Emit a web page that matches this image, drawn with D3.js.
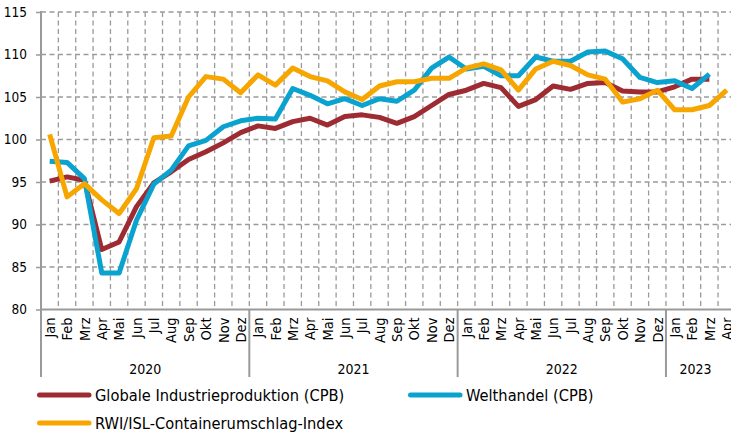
<!DOCTYPE html>
<html><head><meta charset="utf-8">
<script src="https://cdn.jsdelivr.net/npm/d3@7"></script>
<style>
html,body{margin:0;padding:0;background:#fff;}
svg{display:block;font-family:"DejaVu Sans Condensed","DejaVu Sans",sans-serif;font-stretch:condensed;}
</style></head>
<body>
<script>
const monthNames = ["Jan","Feb","Mrz","Apr","Mai","Jun","Jul","Aug","Sep","Okt","Nov","Dez"];
const years = ["2020","2021","2022","2023"];
const yTicks = [80,85,90,95,100,105,110,115];
// Jan 2020 .. Apr 2023 (40 months)
const industrie = [95.1,95.6,95.2,87.05,87.95,92.1,94.9,96.2,97.65,98.55,99.6,100.8,
  101.6,101.3,102.1,102.5,101.7,102.7,102.9,102.6,101.9,102.7,104.0,105.3,
  105.8,106.6,106.1,103.9,104.7,106.3,105.9,106.6,106.7,105.7,105.6,105.6,
  106.2,107.1,107.1,null];
const welthandel = [97.45,97.3,95.4,84.3,84.3,90.5,94.75,96.4,99.25,99.9,101.5,102.2,
  102.5,102.4,106.0,105.2,104.2,104.8,104.0,104.8,104.5,105.8,108.4,109.7,
  108.3,108.6,107.5,107.5,109.7,109.2,109.2,110.3,110.4,109.5,107.3,106.7,
  106.9,106.0,107.7,null];
const containers = [100.6,93.25,94.8,92.9,91.3,94.2,100.2,100.4,105.0,107.4,107.1,105.5,
  107.6,106.4,108.4,107.4,106.9,105.6,104.7,106.3,106.8,106.8,107.2,107.2,
  108.4,108.9,108.2,105.8,108.3,109.2,108.7,107.6,107.1,104.4,104.8,105.8,
  103.5,103.5,104.0,105.8];
const seriesNames = ["Globale Industrieproduktion (CPB)","Welthandel (CPB)","RWI/ISL-Containerumschlag-Index"];
const colors = ["#9e2a32","#0aa2cf","#f7a600"];

const months = [];
years.forEach(y => monthNames.forEach(m => months.push(y + "-" + m)));
months.length = 40;

const W = 731, H = 433;
const FONT = '"DejaVu Sans Condensed","DejaVu Sans",sans-serif';
const svg = d3.select("body").append("svg").attr("width", W).attr("height", H);

const x0 = 41, bw = 17.36;
const x = d3.scaleBand().domain(months).range([x0, x0 + bw * months.length]).padding(0);
const y = d3.scaleLinear().domain([80, 115]).range([309.5, 12]);
const gridColor = "#9a9a9a";

// horizontal grid
svg.append("g").selectAll("line").data(yTicks.filter(d => d > 80)).join("line")
  .attr("x1", x0).attr("x2", x.range()[1]).attr("y1", d => y(d)).attr("y2", d => y(d))
  .attr("stroke", gridColor).attr("stroke-width", 1.3).attr("stroke-dasharray", "5,3.5");
// vertical grid
svg.append("g").selectAll("line").data(d3.range(1, months.length + 1)).join("line")
  .attr("x1", i => x0 + bw * i).attr("x2", i => x0 + bw * i).attr("y1", y(115)).attr("y2", y(80))
  .attr("stroke", gridColor).attr("stroke-width", 1.3).attr("stroke-dasharray", "5,3.5");

// y axis
const yAxis = d3.axisLeft(y).tickValues(yTicks).tickSize(5).tickPadding(9);
const gy = svg.append("g").attr("transform", `translate(${x0},0)`).call(yAxis);
gy.select(".domain").remove();
gy.selectAll(".tick line").attr("stroke", gridColor).attr("stroke-width", 1.5);
gy.selectAll(".tick text").attr("fill", "#000").attr("font-size", 13.5).style("font-family", FONT);
svg.append("line").attr("x1", x0).attr("x2", x0).attr("y1", y(115) - 1).attr("y2", 377)
  .attr("stroke", gridColor).attr("stroke-width", 2);

// x axis
const xAxis = d3.axisBottom(x).tickSize(0).tickPadding(0).tickFormat(d => d.split("-")[1]);
const gx = svg.append("g").attr("transform", `translate(0,${y(80)})`).call(xAxis);
gx.select(".domain").remove();
gx.selectAll(".tick text").attr("fill", "#000").attr("font-size", 14.5).style("font-family", FONT)
  .attr("text-anchor", "end").attr("transform", "rotate(-90)")
  .attr("x", -8).attr("y", 0).attr("dy", "0.36em");
svg.append("line").attr("x1", x0).attr("x2", W).attr("y1", y(80)).attr("y2", y(80))
  .attr("stroke", gridColor).attr("stroke-width", 2);

// year separators and labels
[12, 24, 36].forEach(i => {
  svg.append("line").attr("x1", x(months[i])).attr("x2", x(months[i]))
    .attr("y1", y(80)).attr("y2", 377).attr("stroke", gridColor).attr("stroke-width", 2);
});
years.forEach((yr, k) => {
  const first = k * 12, last = Math.min(k * 12 + 11, months.length - 1);
  const cx = k < 3 ? (x(months[first]) + x(months[last]) + bw) / 2 : 695.5;
  svg.append("text").attr("x", cx).attr("y", 374).attr("text-anchor", "middle")
    .attr("font-size", 14).attr("font-weight", 500).text(yr);
});

// lines
const line = d3.line().defined(d => d != null)
  .x((d, i) => x(months[i]) + x.bandwidth() / 2).y(d => y(d));
[industrie, welthandel, containers].forEach((s, k) => {
  svg.append("path").datum(s).attr("d", line).attr("fill", "none")
    .attr("stroke", colors[k]).attr("stroke-width", 5).attr("stroke-linejoin", "round");
});

// legend
const legendPos = [[37, 395], [408, 395], [37, 423]];
seriesNames.forEach((n, k) => {
  const [lx, ly] = legendPos[k];
  svg.append("line").attr("x1", lx + 2.5).attr("x2", lx + 52).attr("y1", ly).attr("y2", ly)
    .attr("stroke", colors[k]).attr("stroke-width", 5).attr("stroke-linecap", "round");
  svg.append("text").attr("x", lx + 58).attr("y", ly).attr("dy", "0.36em")
    .attr("font-size", 16.3).attr("fill", "#000").text(n);
});
</script>
</body></html>
